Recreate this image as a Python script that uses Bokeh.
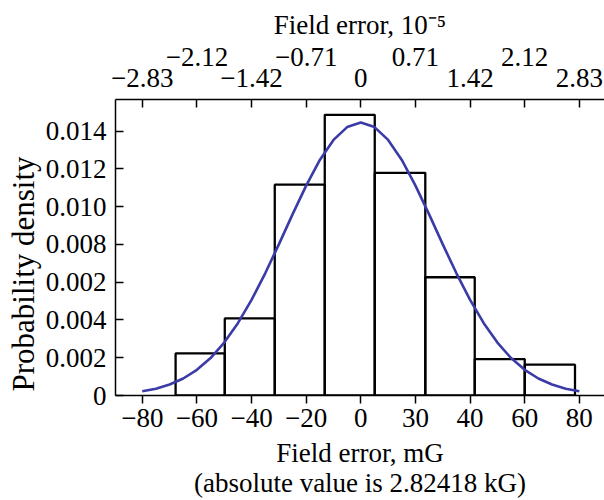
from bokeh.plotting import figure
from bokeh.models import LinearAxis, FixedTicker, CustomJSTickFormatter, Range1d, Title
from bokeh.embed import file_html
from bokeh.resources import INLINE

# ---- data ----
bin_edges = [-67.8, -49.8, -31.5, -13.2, 5.1, 23.6, 41.7, 60.0, 78.4]
densities = [0.00223, 0.00408, 0.01116, 0.01486, 0.01179, 0.00626, 0.00193, 0.00163]

curve_x = [-80, -75, -70, -65, -60, -55, -50, -45, -40, -35, -30, -25, -20, -15, -10, -5, 0,
           5, 10, 15, 20, 25, 30, 35, 40, 45, 50, 55, 60, 65, 70, 75, 80]
curve_y = [0.00022, 0.00036, 0.00058, 0.00090, 0.00136, 0.00198, 0.00280, 0.00383, 0.00506,
           0.00647, 0.00800, 0.00959, 0.01111, 0.01247, 0.01353, 0.01421, 0.01445,
           0.01421, 0.01353, 0.01247, 0.01111, 0.00959, 0.00800, 0.00647, 0.00506,
           0.00383, 0.00280, 0.00198, 0.00136, 0.00090, 0.00058, 0.00036, 0.00022]

x_ticks = [-80, -60, -40, -20, 0, 20, 40, 60, 80]
x_tick_labels = ["\u221280", "\u221260", "\u221240", "\u221220", "0", "30", "40", "60", "80"]
top_labels_lower = ["\u22122.83", "", "\u22121.42", "", "0", "", "1.42", "", "2.83"]
top_labels_upper = ["", "\u22122.12", "", "\u22120.71", "", "0.71", "", "2.12", ""]
y_ticks = [0, 0.002, 0.004, 0.006, 0.008, 0.010, 0.012, 0.014]
y_tick_labels = ["0", "0.002", "0.004", "0.002", "0.008", "0.010", "0.012", "0.014"]

FONT = "Liberation Serif"
TICK_SIZE = "27px"
LABEL_SIZE = "27px"


def fmt(vals, labels):
    return CustomJSTickFormatter(args=dict(vals=vals, labels=labels), code="""
        for (let i = 0; i < vals.length; i++) {
            if (Math.abs(vals[i] - tick) < 1e-9) return labels[i];
        }
        return "";
    """)


def style(ax):
    ax.axis_line_color = "black"
    ax.axis_line_width = 1.5
    ax.major_tick_line_color = "black"
    ax.major_tick_line_width = 1.5
    ax.minor_tick_line_color = None
    ax.major_label_text_font = FONT
    ax.major_label_text_font_size = TICK_SIZE
    ax.major_label_text_color = "black"
    ax.axis_label_text_font = FONT
    ax.axis_label_text_font_size = LABEL_SIZE
    ax.axis_label_text_font_style = "normal"
    ax.axis_label_text_color = "black"


p = figure(width=604, height=500,
           x_range=Range1d(-89.8, 89.2), y_range=Range1d(0, 0.01567),
           output_backend="svg", toolbar_location=None,
           x_axis_location=None, y_axis_location=None,
           min_border_left=115, min_border_right=0,
           min_border_top=99, min_border_bottom=103)
p.outline_line_color = None
p.xgrid.visible = False
p.ygrid.visible = False
p.background_fill_color = "white"
p.border_fill_color = "white"

# bottom axis
bottom = LinearAxis(ticker=FixedTicker(ticks=x_ticks), formatter=fmt(x_ticks, x_tick_labels),
                    axis_label="Field error, mG\n(absolute value is 2.82418 kG)")
style(bottom)
bottom.major_tick_in = 0
bottom.major_tick_out = 8
bottom.major_label_standoff = 5
bottom.axis_label_standoff = 8
bottom.axis_label_text_line_height = 1.0
p.add_layout(bottom, "below")

# left axis
left = LinearAxis(ticker=FixedTicker(ticks=y_ticks), formatter=fmt(y_ticks, y_tick_labels))
style(left)
left.major_tick_in = 8
left.major_tick_out = 0
left.major_label_standoff = 9
p.add_layout(left, "left")

p.add_layout(Title(text="Probability density", align="left", offset=4,
                   text_font=FONT, text_font_size="31px", text_font_style="normal",
                   text_color="black", standoff=4), "left")

# top axes (two staggered rows of labels)
top1 = LinearAxis(ticker=FixedTicker(ticks=x_ticks), formatter=fmt(x_ticks, top_labels_lower))
style(top1)
top1.major_tick_in = 8
top1.major_tick_out = 0
top1.major_label_standoff = 13
p.add_layout(top1, "above")

top2 = LinearAxis(ticker=FixedTicker(ticks=x_ticks), formatter=fmt(x_ticks, top_labels_upper),
                  axis_label="Field error, 10\u207b\u2075")
style(top2)
top2.axis_line_color = None
top2.major_tick_line_color = None
top2.major_tick_in = 0
top2.major_tick_out = 0
top2.major_label_standoff = 0
top2.axis_label_standoff = 5
p.add_layout(top2, "above")

# histogram bars
p.quad(left=bin_edges[:-1], right=bin_edges[1:], bottom=0, top=densities,
       fill_color=None, line_color="black", line_width=2.3)

# fitted density curve
p.line(curve_x, curve_y, line_color="#3b3ba8", line_width=2.6)

open("out.html", "w").write(file_html(p, INLINE))
